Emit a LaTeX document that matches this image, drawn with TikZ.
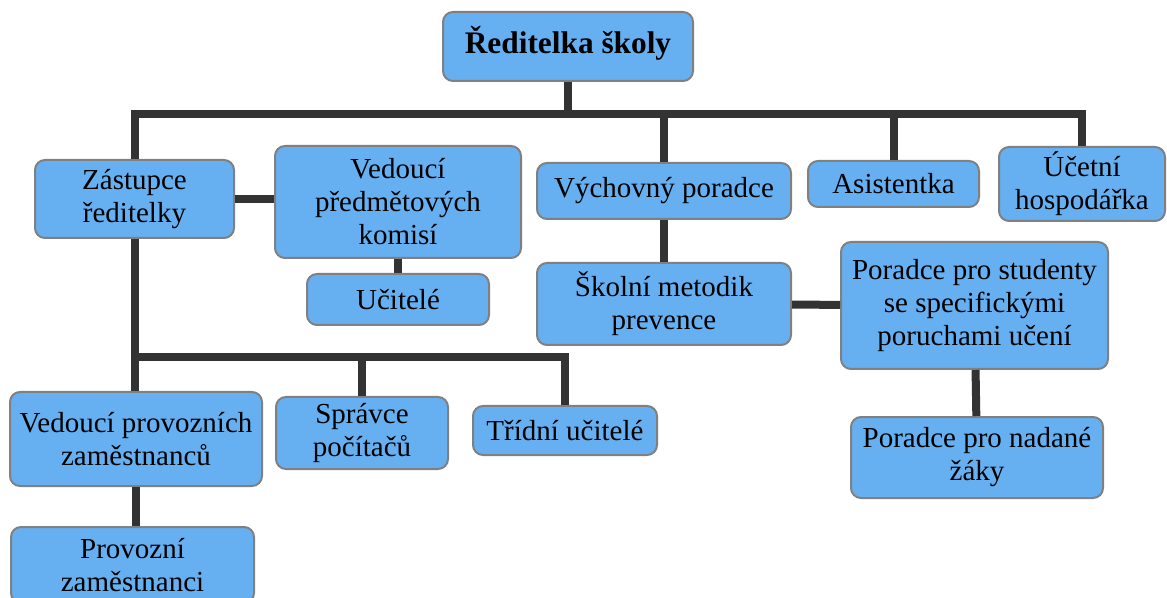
\documentclass[tikz,border=0pt]{standalone}
\usepackage{fontspec}
\setmainfont{Liberation Serif}
\tikzset{every picture/.style={line width=0.75pt}}
\tikzset{
  orgbox/.style={draw={rgb, 255:red, 128; green, 128; blue, 128}, fill={rgb, 255:red, 102; green, 176; blue, 242}, line width=1.5pt, rounded corners=7.5pt, align=center, inner sep=0pt, font=\fontsize{21.75}{24.75}\selectfont},
  boxsize/.style 2 args={minimum width=#1*0.75pt, minimum height=#2*0.75pt},
  link/.style={draw={rgb, 255:red, 51; green, 51; blue, 51}, line width=6pt}
}

\begin{document}
\begin{tikzpicture}[x=0.75pt,y=0.75pt,yscale=-1,xscale=1]
%set diagram left start at 0, and has height of 598
\clip (0,0) rectangle (1167,598);

%Box: head
\node [orgbox, boxsize={250}{69}, font=\bfseries\fontsize{23.5}{26}\selectfont] (top) at (568,46.5) {\raisebox{10pt}{Ředitelka školy}};
%Box: first level
\node [orgbox, boxsize={199}{78}] (zast) at (134.5,199) {Zástupce\\ředitelky};
\node [orgbox, boxsize={246}{112}] (vpk) at (398,202) {Vedoucí\\předmětových\\komisí};
\node [orgbox, boxsize={182}{51}] (ucit) at (398,299.5) {Učitelé};
\node [orgbox, boxsize={254}{56}] (vych) at (664,191) {Výchovný poradce};
\node [orgbox, boxsize={171}{46}] (asist) at (893.5,184) {Asistentka};
\node [orgbox, boxsize={166}{74}] (ucet) at (1082,184) {Účetní\\hospodářka};
%Box: second level
\node [orgbox, boxsize={254}{82}] (metod) at (664,304) {Školní metodik\\prevence};
\node [orgbox, boxsize={267}{127}] (spu) at (974.5,305.5) {Poradce pro studenty\\se specifickými\\poruchami učení};
\node [orgbox, boxsize={252}{81}] (nadani) at (977,457.5) {Poradce pro nadané\\žáky};
\node [orgbox, boxsize={252}{94}] (vprov) at (136,439) {Vedoucí provozních\\zaměstnanců};
\node [orgbox, boxsize={172}{72}] (sprav) at (362,433) {Správce\\počítačů};
\node [orgbox, boxsize={184}{49}] (trid) at (565,430.5) {Třídní učitelé};
\node [orgbox, boxsize={243}{76}, anchor=north] (prov) at (132.5,526) {Provozní\\zaměstnanci};

%Straight Lines: upper bus
\coordinate (bus) at (568,114);
\coordinate (bus2) at (134,357);
\draw [link] (zast.north) |- (bus) -| (ucet.north);
\draw [link] (top) -- (bus);
\draw [link] (vych) -- (vych |- bus);
\draw [link] (asist) -- (asist |- bus);
%Straight Lines: deputy
\draw [link] (zast.east) -- (zast.east -| vpk.west);
\draw [link] (vpk) -- (ucit);
\draw [link] (zast.south) -- (zast.south |- vprov.north);
\draw [link] (bus2) -| (trid.north);
\draw [link] (sprav) -- (sprav |- bus2);
\draw [link] (vprov.south) -- (vprov.south |- prov.north);
%Straight Lines: counsellor
\draw [link] (vych) -- (metod);
\draw [link] (metod) -- (spu);
\draw [link] (spu) -- (nadani);

\end{tikzpicture}
\end{document}
